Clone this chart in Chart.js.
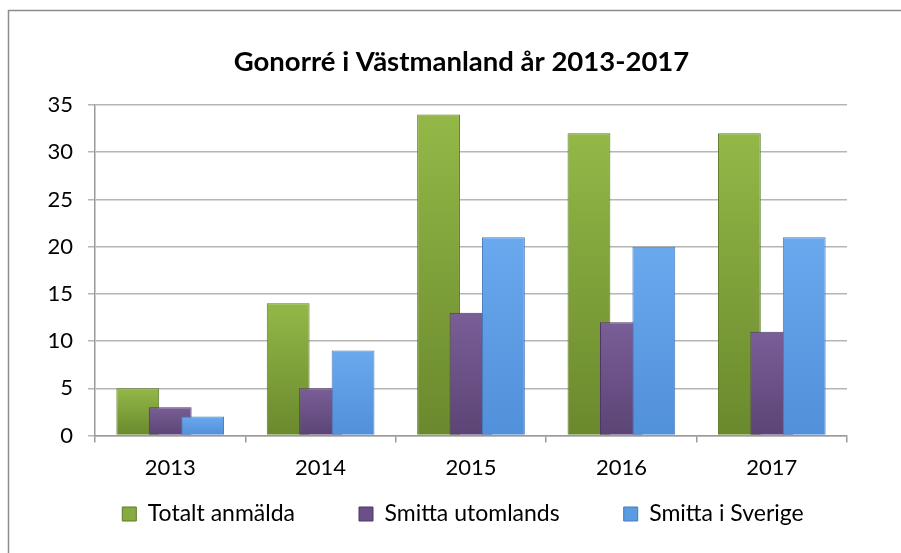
<!DOCTYPE html>
<html><head><meta charset="utf-8">
<script src="https://cdn.jsdelivr.net/npm/chart.js@4.4.0/dist/chart.umd.min.js"></script>
<style>html,body{margin:0;padding:0;background:#fff}#wrap{width:901px;height:553px;position:relative}</style>
</head><body><div id="wrap"><canvas id="c" width="901" height="553"></canvas></div>
<script>
const categories = ['2013', '2014', '2015', '2016', '2017'];
const seriesNames = ['Totalt anmälda', 'Smitta utomlands', 'Smitta i Sverige'];
const totaltAnmalda = [5, 14, 34, 32, 32];
const smittaUtomlands = [3, 5, 13, 12, 11];
const smittaISverige = [2, 9, 21, 20, 21];
const yTickValues = [0, 5, 10, 15, 20, 25, 30, 35];
const titleText = 'Gonorré i Västmanland år 2013-2017';

const FONT = 'Lato, "Open Sans", sans-serif';
const palette = [
  {top: '#93b847', bottom: '#6a892d', border: '#5c7828', solid: '#86ab3e'},
  {top: '#7a5e97', bottom: '#5c4475', border: '#4c3864', solid: '#6b5088'},
  {top: '#6aa9ee', bottom: '#5190da', border: '#467cbc', solid: '#5b9be2'}
];
function grad(i) {
  return function (ctx) {
    const ch = ctx.chart;
    const ys = ch.scales && ch.scales.y;
    if (!ch.chartArea || !ys || ctx.type !== 'data') return palette[i].solid;
    const t = ys.getPixelForValue(ctx.raw), b = ys.getPixelForValue(0);
    if (!isFinite(t) || !isFinite(b) || b - t < 1) return palette[i].solid;
    const g = ch.ctx.createLinearGradient(0, t, 0, b);
    g.addColorStop(0, palette[i].top);
    g.addColorStop(1, palette[i].bottom);
    return g;
  };
}

const LEGEND_PAD = 64;
const layoutFix = {
  id: 'layoutFix',
  beforeDraw(chart) {
    const c = chart.ctx;
    c.save();
    c.fillStyle = '#fff';
    c.fillRect(0, 0, chart.width, chart.height);
    c.strokeStyle = '#8c8c8c';
    c.lineWidth = 1.5;
    c.beginPath();
    c.moveTo(8.5, 553); c.lineTo(8.5, 10.5); c.lineTo(901, 10.5);
    c.stroke();
    c.restore();
  },
  afterLayout(chart) {
    const t = chart.titleBlock;
    if (t) { const dx = 461.5 - (t.left + t.right) / 2; t.left += dx; t.right += dx; }
    const lg = chart.legend;
    if (lg) {
      const dx = 463 - (lg.left + lg.right) / 2; lg.left += dx; lg.right += dx;
      lg.top = 514 - LEGEND_PAD - 11.5; lg.bottom = 553;
    }
  },
  beforeDatasetDraw() { return false; },
  afterDatasetsDraw(chart) {
    const a = chart.chartArea, c = chart.ctx;
    c.save();
    c.beginPath(); c.rect(a.left, a.top - 5, a.right - a.left, a.bottom - a.top + 5); c.clip();
    for (let i = 0; i < chart.data.datasets.length; i++) {
      const m = chart.getDatasetMeta(i);
      if (m.visible) m.controller.draw();
    }
    c.restore();
  }
};

const datasets = [totaltAnmalda, smittaUtomlands, smittaISverige].map((vals, i) => ({
  label: seriesNames[i],
  data: vals,
  backgroundColor: grad(i),
  borderColor: palette[i].border,
  borderWidth: 1,
  borderSkipped: 'bottom',
  categoryPercentage: 0.647,
  barPercentage: 1.32
}));

new Chart(document.getElementById('c'), {
  type: 'bar',
  data: {labels: categories, datasets},
  plugins: [layoutFix],
  options: {
    responsive: false,
    animation: false,
    layout: {padding: {left: 0, right: 54, top: 0, bottom: 0}},
    plugins: {
      tooltip: {enabled: false},
      title: {
        display: true, text: titleText, color: '#000',
        font: {family: FONT, size: 27.5, weight: 'bold'},
        padding: {top: 45.5, bottom: 26.5}
      },
      legend: {
        position: 'bottom',
        maxHeight: 40,
        labels: {
          color: '#000', font: {family: FONT, size: 23},
          boxWidth: 14, boxHeight: 14, padding: LEGEND_PAD,
          generateLabels(chart) {
            return chart.data.datasets.map((d, i) => ({
              text: d.label, fillStyle: palette[i].solid, strokeStyle: palette[i].border,
              lineWidth: 1, hidden: false, datasetIndex: i
            }));
          }
        }
      }
    },
    scales: {
      x: {
        grid: {drawOnChartArea: false, offset: true, tickLength: 7, color: '#9a9a9a', lineWidth: 1.5},
        border: {color: '#9a9a9a', width: 1.5},
        ticks: {color: '#000', font: {family: FONT, size: 22}, padding: 12, maxRotation: 0},
        afterFit(s) { s.height = 77.5; }
      },
      y: {
        min: 0, max: 35,
        afterBuildTicks(s) { s.ticks = yTickValues.map(v => ({value: v})); },
        grid: {color: '#b5b5b5', lineWidth: 1.5, tickLength: 7},
        border: {color: '#9a9a9a', width: 1.5},
        ticks: {color: '#000', font: {family: FONT, size: 22}, padding: 15},
        afterFit(s) { s.width = 95; }
      }
    }
  }
});
</script>
</body></html>
